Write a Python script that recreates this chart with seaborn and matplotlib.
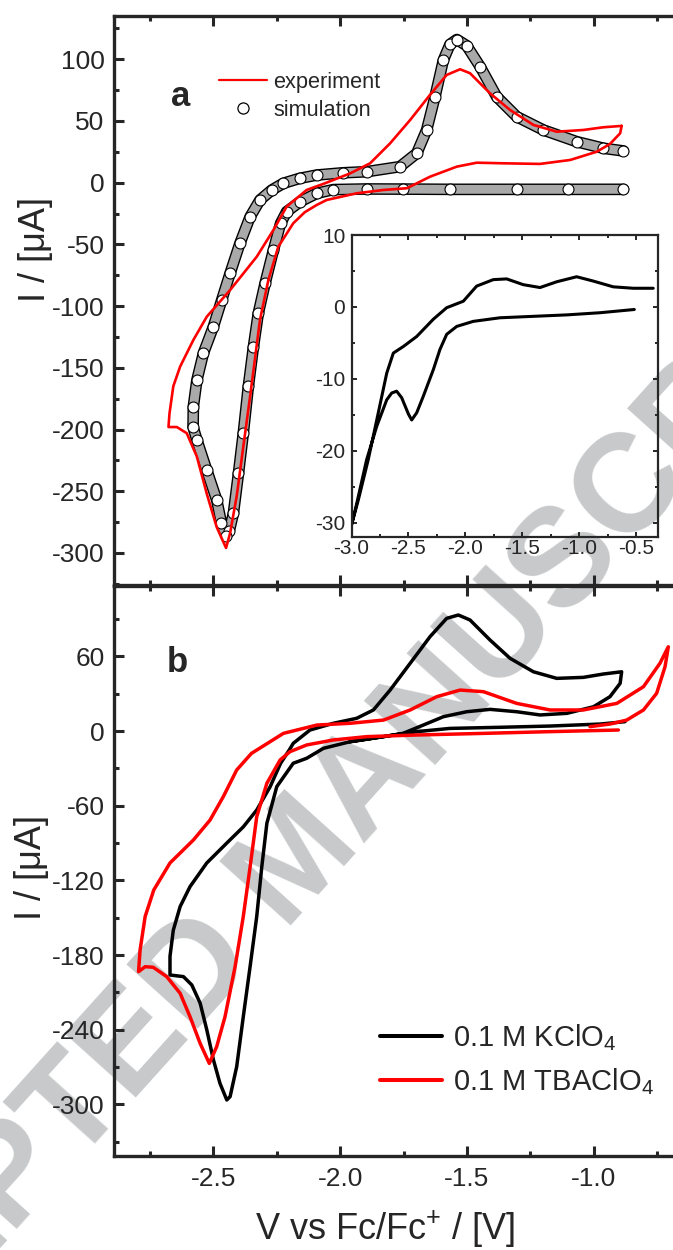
import seaborn as sns
import matplotlib.pyplot as plt
import matplotlib.patheffects as pe
from matplotlib.lines import Line2D
from matplotlib.ticker import MultipleLocator

# panel a, experiment (red loop, starts at the right turning point)
exp_v = [-0.890, -0.896, -0.936, -0.988, -1.093, -1.212, -1.356, -1.461, -1.540, -1.645,
         -1.737, -1.829, -1.935, -2.053, -2.092, -2.140, -2.185, -2.244, -2.283, -2.316,
         -2.333, -2.355, -2.382, -2.408, -2.434, -2.450, -2.487, -2.526, -2.565, -2.605,
         -2.644, -2.677, -2.673, -2.658, -2.631, -2.579, -2.526, -2.434, -2.329, -2.263,
         -2.211, -2.132, -2.060, -1.961, -1.882, -1.803, -1.724, -1.646, -1.580, -1.527,
         -1.488, -1.409, -1.330, -1.238, -1.146, -1.041, -0.962, -0.890]
exp_i = [46.0, 40.0, 31.4, 25.1, 18.4, 15.2, 15.7, 16.2, 13.0, 4.9,
         -4.5, -5.9, -8.6, -14.0, -18.0, -24.0, -32.9, -51.9, -78.8, -111.0,
         -138.0, -173.0, -214.0, -254.0, -284.0, -296.0, -279.0, -252.0, -222.0, -203.0,
         -198.0, -198.0, -187.0, -165.0, -149.0, -127.5, -108.6, -87.0, -60.0, -38.3,
         -19.4, -5.9, -0.5, 7.5, 15.7, 31.9, 50.8, 71.1, 87.3, 91.9,
         88.7, 72.4, 58.9, 46.8, 41.3, 42.7, 44.9, 46.0]

# panel a, simulation (open circles)
sim_v = [-0.883, -1.100, -1.304, -1.567, -1.751, -1.895, -2.027, -2.092, -2.158, -2.211,
         -2.235, -2.263, -2.296, -2.323, -2.342, -2.362, -2.382, -2.401, -2.421, -2.437,
         -2.450, -2.468, -2.487, -2.526, -2.565, -2.580, -2.579, -2.565, -2.539, -2.500,
         -2.467, -2.434, -2.395, -2.355, -2.316, -2.270, -2.224, -2.160, -2.092, -1.990,
         -1.895, -1.764, -1.698, -1.659, -1.626, -1.593, -1.567, -1.540, -1.501, -1.448,
         -1.383, -1.304, -1.199, -1.067, -0.962, -0.883]
sim_i = [-5.4, -5.4, -5.4, -5.4, -5.2, -5.1, -5.6, -8.6, -15.4, -23.5,
         -33.0, -54.5, -81.5, -106.0, -133.0, -165.0, -203.0, -235.5, -268.0, -282.0,
         -286.0, -276.0, -257.0, -233.0, -208.5, -198.0, -181.5, -160.0, -138.0, -116.7,
         -95.0, -73.4, -49.0, -27.6, -14.0, -6.0, -0.5, 3.5, 6.2, 8.0,
         8.9, 13.0, 23.8, 42.7, 69.7, 99.4, 112.0, 116.0, 111.0, 94.0,
         69.7, 53.5, 42.7, 33.2, 27.9, 25.7]

# inset (black)
ins_v = [-0.519, -0.820, -1.112, -1.405, -1.697, -1.932, -2.077, -2.165, -2.224, -2.282,
         -2.370, -2.428, -2.472, -2.500, -2.560, -2.604, -2.647, -2.691, -2.779, -2.867,
         -2.954, -3.000, -2.940, -2.853, -2.765, -2.691, -2.633, -2.546, -2.428, -2.282,
         -2.165, -2.019, -1.902, -1.756, -1.639, -1.493, -1.346, -1.200, -1.025, -0.879,
         -0.704, -0.528, -0.353]
ins_i = [-0.35, -0.8, -1.1, -1.3, -1.5, -2.0, -2.7, -3.8, -5.9, -8.7,
         -12.4, -14.7, -15.7, -14.9, -12.6, -11.7, -11.95, -12.9, -16.6, -21.2,
         -27.3, -30.3, -26.8, -21.2, -14.7, -9.2, -6.4, -5.5, -4.1, -1.7,
         -0.1, 0.8, 2.9, 3.8, 3.9, 3.1, 2.7, 3.5, 4.2, 3.6,
         2.8, 2.6, 2.6]

# panel b, 0.1 M KClO4 (black)
k_v = [-0.877, -0.975, -1.172, -1.369, -1.567, -1.698, -1.829, -1.961, -2.066, -2.132,
       -2.185, -2.250, -2.289, -2.309, -2.329, -2.355, -2.382, -2.408, -2.434, -2.447,
       -2.474, -2.500, -2.526, -2.552, -2.585, -2.618, -2.671,
       -2.671, -2.658, -2.631, -2.592, -2.526, -2.447, -2.382, -2.329, -2.276, -2.235,
       -2.200, -2.185, -2.119, -2.027, -1.935, -1.869, -1.803, -1.724, -1.646, -1.580,
       -1.534, -1.488, -1.409, -1.330, -1.238, -1.146, -1.041, -0.962, -0.890,
       -0.896, -0.936, -1.001, -1.106, -1.212, -1.304, -1.409, -1.501, -1.593, -1.672,
       -1.751, -1.829, -1.961]
k_i = [7.5, 5.6, 4.0, 3.0, 2.1, -0.5, -4.5, -8.6, -13.9, -21.9,
       -25.9, -44.7, -74.1, -109.0, -149.0, -189.0, -229.5, -269.6, -293.7, -296.4,
       -283.0, -264.0, -240.0, -218.7, -204.0, -197.3, -196.0,
       -181.0, -160.0, -141.0, -125.0, -106.0, -90.0, -77.0, -63.5, -44.7, -26.0,
       -15.0, -9.9, 0.8, 6.2, 10.2, 16.9, 32.9, 54.4, 75.7, 90.5,
       93.2, 89.2, 73.1, 58.4, 47.6, 42.3, 43.1, 45.8, 47.6,
       38.3, 27.6, 19.5, 14.2, 12.9, 15.5, 17.4, 15.5, 11.5, 4.8,
       -1.8, -4.5, -8.6]

# panel b, 0.1 M TBAClO4 (red)
tba_v = [-0.903, -1.172, -1.435, -1.698, -1.895, -2.027, -2.132, -2.198, -2.237, -2.289,
         -2.329, -2.355, -2.382, -2.414, -2.454, -2.487, -2.516, -2.552, -2.592, -2.631,
         -2.684, -2.737, -2.769, -2.795,
         -2.789, -2.769, -2.735, -2.671, -2.579, -2.513, -2.461, -2.408, -2.350, -2.224,
         -2.092, -1.961, -1.829, -1.724, -1.619, -1.527, -1.435, -1.304, -1.172, -1.041,
         -0.909, -0.804, -0.739, -0.706,
         -0.719, -0.752, -0.804, -0.870, -0.936, -1.015]
tba_i = [0.8, -0.5, -1.9, -3.2, -4.5, -7.2, -11.2, -16.6, -23.3, -42.0,
         -68.8, -109.0, -149.0, -189.0, -229.5, -253.6, -267.0, -251.0, -229.5, -210.7,
         -197.3, -189.8, -189.3, -193.3,
         -176.0, -149.0, -127.7, -106.0, -87.6, -71.5, -52.8, -31.3, -18.0, -1.9,
         4.8, 6.2, 8.8, 16.9, 27.6, 32.9, 31.6, 22.2, 16.9, 16.9,
         22.2, 35.6, 54.4, 67.7,
         51.6, 30.3, 16.9, 8.8, 5.6, 3.5]

sns.set_style('ticks')
plt.rcParams['font.family'] = ['Liberation Sans', 'DejaVu Sans']
plt.rcParams['mathtext.fontset'] = 'custom'
plt.rcParams['mathtext.rm'] = 'Liberation Sans'
plt.rcParams['mathtext.it'] = 'Liberation Sans:italic'
plt.rcParams['mathtext.bf'] = 'Liberation Sans:bold'
plt.rcParams['mathtext.default'] = 'regular'
plt.rcParams['axes.unicode_minus'] = False

W, H = 673, 1250
fig = plt.figure(figsize=(W / 100, H / 100), dpi=100)
fig.patch.set_facecolor('white')


def box(l, t, r, b):
    return [l / W, 1 - b / H, (r - l) / W, (b - t) / H]


ax_a = fig.add_axes(box(113.7, 15.7, 695.2, 585.5))
ax_b = fig.add_axes(box(113.7, 585.5, 695.2, 1156))
ax_in = fig.add_axes(box(351.5, 235, 658, 537.3))

# watermark behind everything
fig.text(300 / W, 1 - 862 / H, 'ACCEPTED MANUSCRIPT', rotation=48, rotation_mode='anchor',
         ha='center', va='center', fontsize=100, fontweight='bold', color='#c8c9ca', zorder=-5)

# panel a
sns.lineplot(x=sim_v, y=sim_i, sort=False, estimator=None, ax=ax_a, color='#a9a9a9', lw=6.4,
             path_effects=[pe.Stroke(linewidth=8.4, foreground='black'), pe.Normal()], zorder=2)
sns.scatterplot(x=sim_v, y=sim_i, ax=ax_a, marker='o', s=62, facecolor='white',
                edgecolor='black', linewidth=0.8, zorder=3)
sns.lineplot(x=exp_v, y=exp_i, sort=False, estimator=None, ax=ax_a, color='#ff0000', lw=1.9, zorder=4)

# panel b
sns.lineplot(x=k_v, y=k_i, sort=False, estimator=None, ax=ax_b, color='black', lw=2.5, zorder=3)
sns.lineplot(x=tba_v, y=tba_i, sort=False, estimator=None, ax=ax_b, color='#ff0000', lw=2.5, zorder=4)

# inset
sns.lineplot(x=ins_v, y=ins_i, sort=False, estimator=None, ax=ax_in, color='black', lw=2.2)

for ax, ymaj, ymin in [(ax_a, 50, 25), (ax_b, 60, 30)]:
    ax.set_facecolor('none')
    ax.set_xlim(-2.893, -0.6)
    ax.xaxis.set_major_locator(MultipleLocator(0.5))
    ax.xaxis.set_minor_locator(MultipleLocator(0.25))
    ax.yaxis.set_major_locator(MultipleLocator(ymaj))
    ax.yaxis.set_minor_locator(MultipleLocator(ymin))
    ax.tick_params(which='both', direction='in', top=True, right=True, width=2.2,
                   labelsize=19, pad=6.5)
    ax.tick_params(which='major', length=7.2)
    ax.tick_params(which='minor', length=3.6)
    for s in ax.spines.values():
        s.set_linewidth(2.4)

ax_a.set_ylim(-326.4, 135.3)
ax_b.set_ylim(-341.4, 116.9)
ax_a.tick_params(labelbottom=False)
ax_b.tick_params(axis='x', pad=8)

ax_in.set_facecolor('none')
ax_in.set_xlim(-3.0, -0.311)
ax_in.set_ylim(-32.0, 10.0)
ax_in.xaxis.set_major_locator(MultipleLocator(0.5))
ax_in.xaxis.set_minor_locator(MultipleLocator(0.25))
ax_in.yaxis.set_major_locator(MultipleLocator(10))
ax_in.yaxis.set_minor_locator(MultipleLocator(5))
ax_in.tick_params(which='both', direction='in', top=True, right=True, width=1.4, labelsize=15)
ax_in.tick_params(axis='y', pad=4.5)
ax_in.tick_params(axis='x', pad=1.5)
ax_in.tick_params(which='major', length=3.6)
ax_in.tick_params(which='minor', length=2.2)
for s in ax_in.spines.values():
    s.set_linewidth(1.6)

# labels
ax_a.text(-0.1353, 0.589, 'I / [μA]', transform=ax_a.transAxes, rotation=90,
          ha='center', va='center', fontsize=26)
ax_b.text(-0.142, 0.505, 'I / [μA]', transform=ax_b.transAxes, rotation=90,
          ha='center', va='center', fontsize=26)
ax_b.text(0.4666, -0.128, 'V vs Fc/Fc$^{+}$ / [V]', transform=ax_b.transAxes,
          ha='center', va='center', fontsize=26)
ax_a.text(0.098, 0.8415, 'a', transform=ax_a.transAxes, fontsize=25, fontweight='bold',
          ha='left', va='baseline')
ax_b.text(0.0911, 0.8479, 'b', transform=ax_b.transAxes, fontsize=25, fontweight='bold',
          ha='left', va='baseline')

# legends
h_a = [Line2D([], [], color='#ff0000', lw=1.6),
       Line2D([], [], ls='none', marker='o', ms=8, mfc='none', mec='black', mew=0.9)]
ax_a.legend(h_a, ['experiment', 'simulation'], loc='center left', bbox_to_anchor=(0.1811, 0.858),
            frameon=False, fontsize=15.7, handlelength=2.2, handletextpad=0.3,
            labelspacing=0.32, borderpad=0, borderaxespad=0)
h_b = [Line2D([], [], color='black', lw=2.9), Line2D([], [], color='#ff0000', lw=2.9)]
ax_b.legend(h_b, ['0.1 M KClO$_4$', '0.1 M TBAClO$_4$'], loc='center left',
            bbox_to_anchor=(0.458, 0.169), frameon=False, fontsize=21, handlelength=2.12,
            handletextpad=0.37, labelspacing=0.45, borderpad=0, borderaxespad=0)

fig.savefig('out.png', dpi=100)
